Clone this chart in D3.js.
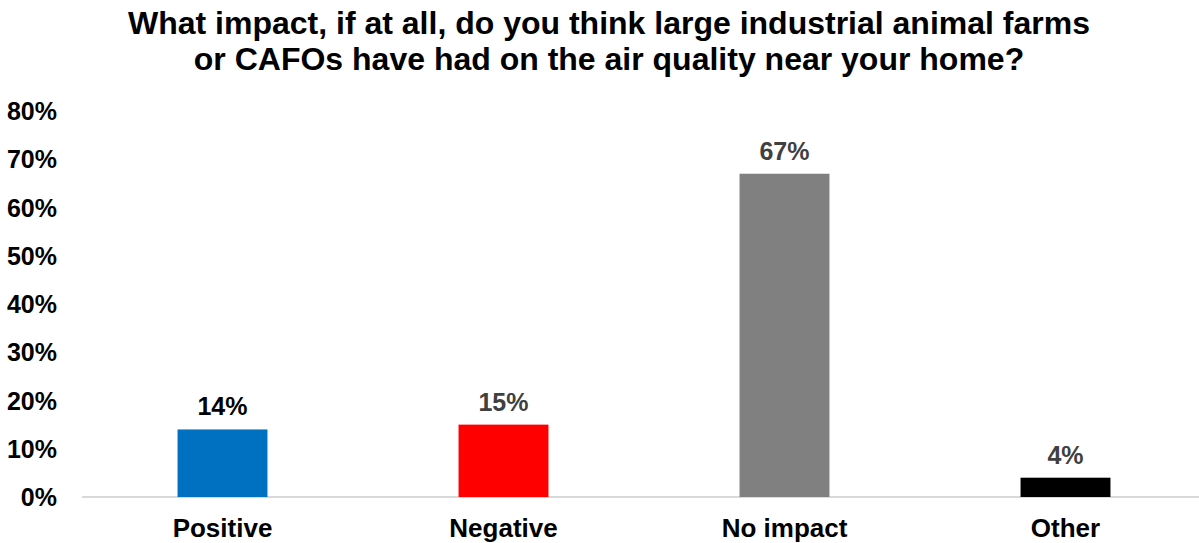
<!DOCTYPE html>
<html>
<head>
<meta charset="utf-8">
<script src="https://cdn.jsdelivr.net/npm/d3@7"></script>
<style>
  body { margin: 0; background: #fff; }
  text { font-family: "Liberation Sans", Arial, sans-serif; font-weight: bold; }
</style>
</head>
<body>
<svg width="1199" height="543"></svg>
<script>
/* chart data */
var categories = ["Positive", "Negative", "No impact", "Other"];
var values = [14, 15, 67, 4];
var barColors = ["#0070C0", "#FF0000", "#808080", "#000000"];
var labelColors = ["#000000", "#404040", "#404040", "#404040"];
var yTicks = [0, 10, 20, 30, 40, 50, 60, 70, 80];
var titleLines = ["What impact, if at all, do you think large industrial animal farms",
                  "or CAFOs have had on the air quality near your home?"];

var svg = d3.select("svg"),
    margin = {top: 111, right: -7, bottom: 46, left: 82},
    width = +svg.attr("width") - margin.left - margin.right,
    height = +svg.attr("height") - margin.top - margin.bottom;

var x = d3.scaleBand().domain(categories).range([0, width]).paddingInner(0.68).paddingOuter(0.34),
    y = d3.scaleLinear().domain([0, 80]).range([height, 0]);

var g = svg.append("g")
    .attr("transform", "translate(" + margin.left + "," + margin.top + ")");

/* title */
svg.selectAll(".title")
    .data(titleLines)
    .enter().append("text")
    .attr("class", "title")
    .attr("x", 609)
    .attr("y", function (d, i) { return 34 + i * 36; })
    .attr("text-anchor", "middle")
    .attr("font-size", "32px")
    .attr("fill", "#000")
    .text(function (d) { return d; });

/* y axis labels */
g.selectAll(".ytick")
    .data(yTicks)
    .enter().append("text")
    .attr("class", "ytick")
    .attr("x", -25)
    .attr("y", function (d) { return y(d); })
    .attr("dy", "0.36em")
    .attr("text-anchor", "end")
    .attr("font-size", "25px")
    .attr("fill", "#000")
    .text(function (d) { return d + "%"; });

/* baseline */
g.append("line")
    .attr("x1", 0)
    .attr("x2", 1199 - margin.left)
    .attr("y1", y(0))
    .attr("y2", y(0))
    .attr("stroke", "#d9d9d9")
    .attr("stroke-width", 2);

/* bars */
g.selectAll(".bar")
    .data(values)
    .enter().append("rect")
    .attr("class", "bar")
    .attr("x", function (d, i) { return x(categories[i]); })
    .attr("y", function (d) { return y(d); })
    .attr("width", x.bandwidth())
    .attr("height", function (d) { return y(0) - y(d); })
    .attr("fill", function (d, i) { return barColors[i]; });

/* value labels */
g.selectAll(".vlabel")
    .data(values)
    .enter().append("text")
    .attr("class", "vlabel")
    .attr("x", function (d, i) { return x(categories[i]) + x.bandwidth() / 2; })
    .attr("y", function (d) { return y(d) - 14; })
    .attr("text-anchor", "middle")
    .attr("font-size", "25px")
    .attr("fill", function (d, i) { return labelColors[i]; })
    .text(function (d) { return d + "%"; });

/* category labels */
g.selectAll(".xlabel")
    .data(categories)
    .enter().append("text")
    .attr("class", "xlabel")
    .attr("x", function (d) { return x(d) + x.bandwidth() / 2; })
    .attr("y", y(0) + 40)
    .attr("text-anchor", "middle")
    .attr("font-size", "26px")
    .attr("fill", "#000")
    .text(function (d) { return d; });
</script>
</body>
</html>
